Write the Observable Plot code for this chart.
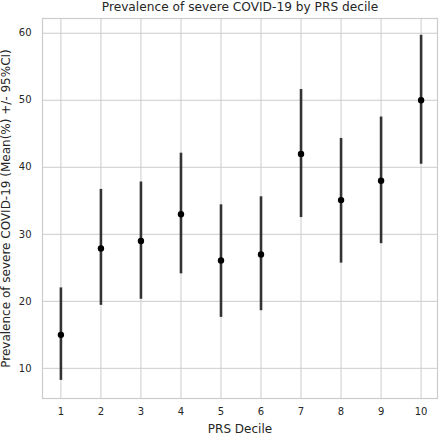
<!DOCTYPE html>
<html>
<head>
<meta charset="utf-8">
<script src="https://cdn.jsdelivr.net/npm/d3@7"></script>
<script src="https://cdn.jsdelivr.net/npm/@observablehq/plot@0.6"></script>
<style>
  html, body { margin: 0; padding: 0; background: #fff; }
  #chart svg { display: block; }
</style>
</head>
<body>
<div id="chart"></div>
<script>
const deciles = [1, 2, 3, 4, 5, 6, 7, 8, 9, 10];
const means   = [15, 27.9, 29, 33, 26.1, 27, 42, 35.1, 38, 50];
const lower   = [8.2, 19.4, 20.3, 24.1, 17.6, 18.6, 32.5, 25.7, 28.6, 40.45];
const upper   = [22, 36.7, 37.8, 42.1, 34.4, 35.6, 51.6, 44.3, 47.5, 59.7];
const yTicks  = [10, 20, 30, 40, 50, 60];
const title   = "Prevalence of severe COVID-19 by PRS decile";
const xLabel  = "PRS Decile";
const yLabel  = "Prevalence of severe COVID-19 (Mean(%) +/- 95%CI)";

const data = deciles.map((d, i) => ({decile: d, mean: means[i], lo: lower[i], hi: upper[i]}));

const chart = Plot.plot({
  width: 440,
  height: 435,
  marginLeft: 42,
  marginRight: 3,
  marginTop: 18,
  marginBottom: 37,
  style: {fontFamily: "DejaVu Sans", fontSize: "10px", color: "#262626", background: "#fff"},
  x: {domain: [0.54, 10.41], ticks: deciles, tickFormat: d => String(d)},
  y: {domain: [5.5, 62.2], ticks: yTicks},
  marks: [
    Plot.gridX(deciles, {stroke: "#cccccc", strokeOpacity: 1, strokeWidth: 1}),
    Plot.gridY(yTicks, {stroke: "#cccccc", strokeOpacity: 1, strokeWidth: 1}),
    Plot.frame({stroke: "#cccccc", strokeWidth: 1.2}),
    Plot.axisX(deciles, {tickSize: 0, tickPadding: 9, label: xLabel, labelAnchor: "center", labelArrow: "none", labelOffset: 34, fontSize: 10, fill: "#262626"}),
    Plot.axisY(yTicks, {tickSize: 0, tickPadding: 11, label: yLabel, labelAnchor: "center", labelArrow: "none", labelOffset: 41, fontSize: 10, fill: "#262626"}),
    Plot.ruleX(data, {x: "decile", y1: "lo", y2: "hi", stroke: "#333333", strokeWidth: 2.6}),
    Plot.dot(data, {x: "decile", y: "mean", r: 3.2, fill: "#000", stroke: "none"}),
    Plot.text([title], {frameAnchor: "top", dy: -11, text: d => d, fontSize: 12.2, fill: "#262626", lineAnchor: "middle"})
  ]
});

// enlarge axis label fonts
chart.querySelectorAll("g[aria-label='x-axis label'] text, g[aria-label='y-axis label'] text").forEach(t => t.setAttribute("font-size", 12));
document.getElementById("chart").appendChild(chart);
</script>
</body>
</html>
